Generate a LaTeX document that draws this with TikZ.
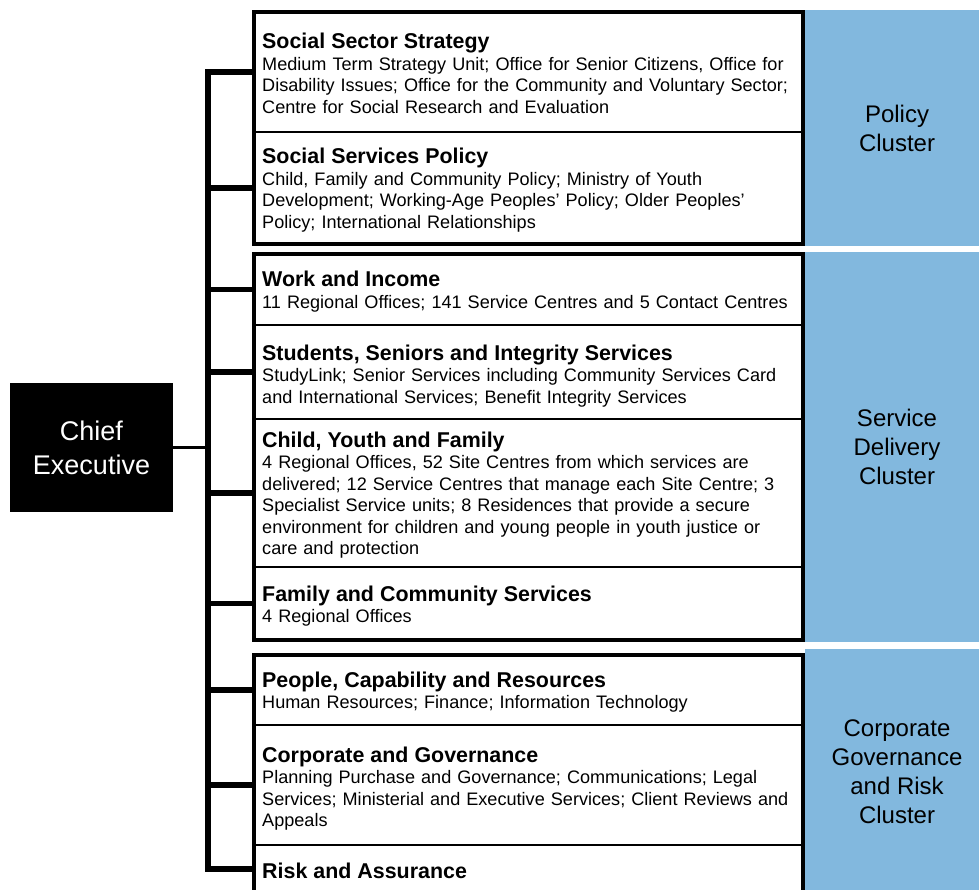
\documentclass[tikz,border=0pt]{standalone}
\usepackage{fontspec}
\setmainfont{Liberation Sans}
\usetikzlibrary{fit}
\definecolor{clusterblue}{RGB}{130,184,222}

\begin{document}
\begin{tikzpicture}[x=1pt,y=-1pt]
\tikzset{unit/.style = {draw, line width=2.5pt, minimum width=549pt, inner sep=0pt, outer sep=0pt, anchor=north west}}
\tikzset{group/.style = {draw, line width=4pt, inner sep=0pt}}
\tikzset{info/.style = {anchor=base west, inner sep=0pt, text width=540pt, align=left, font=\fontsize{18.1}{21.5}\selectfont}}
\tikzset{cluster/.style = {fill=clusterblue, minimum width=184pt, inner sep=0pt, align=center, font=\fontsize{24}{29}\selectfont}}
\tikzset{chief/.style = {fill=black, text=white, minimum width=163pt, minimum height=129pt, align=center, font=\fontsize{27}{34}\selectfont}}
\tikzset{branch/.style = {-, line width=5.5pt, line join=miter}}
\tikzset{celine/.style = {-, line width=3pt}}
\def\unithead#1{{\bfseries\fontsize{21.4}{21.5}\selectfont #1}\\}
\useasboundingbox (0,0) rectangle (979,890);

% clusters
\node[cluster, minimum height=236pt] (policy) at (897,128) {Policy\\Cluster};
\node[cluster, minimum height=390pt] (delivery) at (897,447) {Service\\Delivery\\Cluster};
\node[cluster, minimum height=246pt] (corporate) at (897,772) {Corporate\\Governance\\and Risk\\Cluster};

% units
\node[unit, minimum height=119.5pt] (sss) at (254,12.5) {};
\node[unit, minimum height=112pt] (ssp) at (sss.south west) {};
\node[unit, minimum height=70.5pt] (wi) at (254,254.5) {};
\node[unit, minimum height=94pt] (ssis) at (wi.south west) {};
\node[unit, minimum height=148pt] (cyf) at (ssis.south west) {};
\node[unit, minimum height=72.5pt] (fcs) at (cyf.south west) {};
\node[unit, minimum height=70pt] (pcr) at (254,655) {};
\node[unit, minimum height=120pt] (cg) at (pcr.south west) {};
\node[unit, minimum height=48pt] (ra) at (cg.south west) {};

\node[chief] (ce) at (91.5,447.5) {Chief\\Executive};
\coordinate (spine) at (208,0);

% connectors
\draw[branch] (sss.west) -- (spine |- sss.west) -- (spine |- ra.west) -- (ra.west);
\draw[branch] (spine |- ssp.west) -- (ssp.west);
\draw[branch] (spine |- wi.west) -- (wi.west);
\draw[branch] (spine |- ssis.west) -- (ssis.west);
\draw[branch] (spine |- cyf.west) -- (cyf.west);
\draw[branch] (spine |- fcs.west) -- (fcs.west);
\draw[branch] (spine |- pcr.west) -- (pcr.west);
\draw[branch] (spine |- cg.west) -- (cg.west);
\draw[celine] (ce.east) -- (ce.east -| spine);

% groups
\node[group, fit=(sss)(ssp)] (policy-box) {};
\node[group, fit=(wi)(fcs)] (delivery-box) {};
\node[group, fit=(pcr)(ra)] (corporate-box) {};

% texts
\node[info] (sss-text) at (262,49) {\unithead{Social Sector Strategy}Medium Term Strategy Unit; Office for Senior Citizens, Office for\\Disability Issues; Office for the Community and Voluntary Sector;\\Centre for Social Research and Evaluation};
\node[info] (ssp-text) at (262,164) {\unithead{Social Services Policy}Child, Family and Community Policy; Ministry of Youth\\Development; Working-Age Peoples' Policy; Older Peoples'\\Policy; International Relationships};
\node[info] (wi-text) at (262,287) {\unithead{Work and Income}11 Regional Offices; 141 Service Centres and 5 Contact Centres};
\node[info] (ssis-text) at (262,360) {\unithead{Students, Seniors and Integrity Services}StudyLink; Senior Services including Community Services Card\\and International Services; Benefit Integrity Services};
\node[info] (cyf-text) at (262,447) {\unithead{Child, Youth and Family}4 Regional Offices, 52 Site Centres from which services are\\delivered; 12 Service Centres that manage each Site Centre; 3\\Specialist Service units; 8 Residences that provide a secure\\environment for children and young people in youth justice or\\care and protection};
\node[info] (fcs-text) at (262,601) {\unithead{Family and Community Services}4 Regional Offices};
\node[info] (pcr-text) at (262,687) {\unithead{People, Capability and Resources}Human Resources; Finance; Information Technology};
\node[info] (cg-text) at (262,762) {\unithead{Corporate and Governance}Planning Purchase and Governance; Communications; Legal\\Services; Ministerial and Executive Services; Client Reviews and\\Appeals};
\node[info] (ra-text) at (262,878) {\unithead{Risk and Assurance}};
\end{tikzpicture}
\end{document}
